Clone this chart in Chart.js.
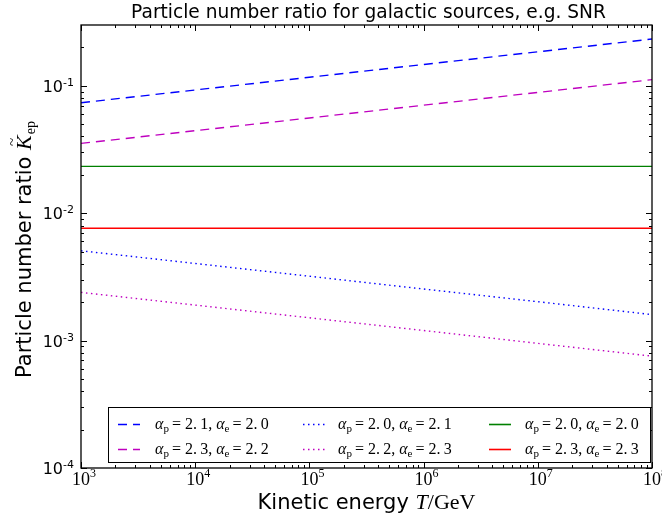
<!DOCTYPE html>
<html>
<head>
  <meta charset="utf-8">
  <title>Particle number ratio</title>
  <script src="https://cdn.jsdelivr.net/npm/chart.js"></script>
  <style>
    body { margin: 0; background: #fff; }
    canvas { display: block; }
  </style>
</head>
<body>
  <canvas id="ratioChart" width="662" height="518"></canvas>

  <script>
    // kinetic energy T in GeV (one point per decade, lines are straight on log-log)
    const energies = [1e3, 1e4, 1e5, 1e6, 1e7, 1e8];

    // K_ep
    const ap21ae20 = [0.0736, 0.0927, 0.1167, 0.1469, 0.1849, 0.2328];
    const ap23ae22 = [0.0353, 0.0444, 0.0559, 0.0704, 0.0887, 0.1117];
    const ap20ae21 = [0.00507, 0.00403, 0.00320, 0.00254, 0.00202, 0.00160];
    const ap22ae23 = [0.00239, 0.00190, 0.00151, 0.00120, 0.000951, 0.000755];
    const ap20ae20 = [0.0233, 0.0233, 0.0233, 0.0233, 0.0233, 0.0233];
    const ap23ae23 = [0.00762, 0.00762, 0.00762, 0.00762, 0.00762, 0.00762];

    // spectral indices for the legend
    const alphaP = [2.1, 2.3, 2.0, 2.2, 2.0, 2.3];
    const alphaE = [2.0, 2.2, 2.1, 2.3, 2.0, 2.3];

    const xTickExps = [3, 4, 5, 6, 7, 8];
    const yTickExps = [-4, -3, -2, -1];

    const titleText = 'Particle number ratio for galactic sources, e.g. SNR';

    function pts(vals) {
      return energies.map((e, i) => ({ x: e, y: vals[i] }));
    }

    const DASH = [9, 6];
    const DOT = [1.5, 3.5];

    const seriesDefs = [
      { vals: ap21ae20, color: '#0000ff', dash: DASH },
      { vals: ap23ae22, color: '#bf00bf', dash: DASH },
      { vals: ap20ae21, color: '#0000ff', dash: DOT },
      { vals: ap22ae23, color: '#bf00bf', dash: DOT },
      { vals: ap20ae20, color: '#008000', dash: [] },
      { vals: ap23ae23, color: '#ff0000', dash: [] }
    ];

    const SANS = '"DejaVu Sans", sans-serif';
    const SERIF = '"Liberation Serif", serif';

    // draws a run of text pieces; pieces = [{t, f, dy}]
    function drawRun(ctx, pieces, x, y, align) {
      let w = 0;
      pieces.forEach(p => { ctx.font = p.f; w += ctx.measureText(p.t).width + (p.gap || 0); });
      let cx = x;
      if (align === 'center') cx = x - w / 2;
      if (align === 'right') cx = x - w;
      ctx.textAlign = 'left';
      ctx.textBaseline = 'alphabetic';
      pieces.forEach(p => {
        ctx.font = p.f;
        ctx.fillText(p.t, cx, y + (p.dy || 0));
        cx += ctx.measureText(p.t).width + (p.gap || 0);
      });
      return w;
    }

    function fmt(v) {
      return v.toFixed(1).replace('.', '.\u2009');
    }

    const decorPlugin = {
      id: 'decor',
      afterDraw(chart) {
        const ctx = chart.ctx;
        const a = chart.chartArea;
        const xs = chart.scales.x, ys = chart.scales.y;
        ctx.save();
        ctx.fillStyle = '#000';
        ctx.strokeStyle = '#000';

        // frame
        ctx.lineWidth = 1.3;
        ctx.strokeRect(a.left, a.top, a.right - a.left, a.bottom - a.top);

        // inward ticks on all four sides
        ctx.lineWidth = 1;
        ctx.beginPath();
        for (let e = 3; e <= 8; e++) {
          for (let k = 1; k <= 9; k++) {
            if (e === 8 && k > 1) break;
            const px = Math.round(xs.getPixelForValue(k * Math.pow(10, e))) + 0.5;
            const len = k === 1 ? 6 : 3;
            ctx.moveTo(px, a.bottom); ctx.lineTo(px, a.bottom - len);
            ctx.moveTo(px, a.top); ctx.lineTo(px, a.top + len);
          }
        }
        for (let e = -4; e <= -1; e++) {
          for (let k = 1; k <= 9; k++) {
            const v = k * Math.pow(10, e);
            if (v > ys.max) break;
            const py = Math.round(ys.getPixelForValue(v)) + 0.5;
            const len = k === 1 ? 6 : 3;
            ctx.moveTo(a.left, py); ctx.lineTo(a.left + len, py);
            ctx.moveTo(a.right, py); ctx.lineTo(a.right - len, py);
          }
        }
        ctx.stroke();

        // x tick labels
        xTickExps.forEach(e => {
          const px = xs.getPixelForValue(Math.pow(10, e));
          drawRun(ctx, [
            { t: '10', f: '18px ' + SERIF },
            { t: String(e), f: '12px ' + SERIF, dy: -8 }
          ], px + 3, 485, 'center');
        });

        // y tick labels
        yTickExps.forEach(e => {
          const py = ys.getPixelForValue(Math.pow(10, e));
          drawRun(ctx, [
            { t: '10', f: '16px ' + SANS },
            { t: String(e), f: '11px ' + SANS, dy: -6 }
          ], 74, py + 6, 'right');
        });

        // title
        drawRun(ctx, [{ t: titleText, f: '18.6px ' + SANS }], (a.left + a.right) / 2 + 2, 18, 'center');

        // x axis label
        drawRun(ctx, [
          { t: 'Kinetic energy ', f: '21px ' + SANS },
          { t: 'T', f: 'italic 22px ' + SERIF },
          { t: '/GeV', f: '22px ' + SERIF }
        ], (a.left + a.right) / 2, 509, 'center');

        // y axis label
        ctx.save();
        ctx.translate(31, (a.top + a.bottom) / 2 + 3);
        ctx.rotate(-Math.PI / 2);
        ctx.font = '21px ' + SANS;
        const p1 = 'Particle number ratio ';
        const w1 = ctx.measureText(p1).width;
        ctx.font = 'italic 22px ' + SERIF;
        const wk = ctx.measureText('K').width;
        ctx.font = '14px ' + SERIF;
        const ws = ctx.measureText('ep').width;
        const tot = w1 + wk + 1 + ws;
        let sx = -tot / 2;
        drawRun(ctx, [{ t: p1, f: '21px ' + SANS }], sx, 0, 'left');
        sx += w1;
        drawRun(ctx, [{ t: 'K', f: 'italic 22px ' + SERIF }], sx, 0, 'left');
        drawRun(ctx, [{ t: '~', f: '15px ' + SERIF }], sx + 4, -14, 'left');
        drawRun(ctx, [{ t: 'ep', f: '14px ' + SERIF }], sx + wk + 1, 4, 'left');
        ctx.restore();

        // legend box
        const lx = 108, ly = 407, lw = 542, lh = 55;
        ctx.fillStyle = '#fff';
        ctx.fillRect(lx, ly, lw, lh);
        ctx.lineWidth = 1;
        ctx.strokeStyle = '#000';
        ctx.strokeRect(lx + 0.5, ly + 0.5, lw, lh);

        const colLine = [118, 303, 489];
        const colText = [155, 338, 525];
        const rowY = [424, 449];
        chart.data.datasets.forEach((ds, i) => {
          const c = Math.floor(i / 2), r = i % 2;
          const y = rowY[r] + 0.5;
          ctx.save();
          ctx.strokeStyle = ds.borderColor;
          ctx.lineWidth = 1.6;
          ctx.setLineDash(ds.borderDash);
          ctx.beginPath();
          ctx.moveTo(colLine[c], y);
          ctx.lineTo(colLine[c] + 22, y);
          ctx.stroke();
          ctx.restore();
          ctx.fillStyle = '#000';
          drawRun(ctx, [
            { t: '\u03b1', f: 'italic 16px ' + SERIF },
            { t: 'p', f: '11px ' + SERIF, dy: 3, gap: 3 },
            { t: '= ' + fmt(alphaP[i]) + ', ', f: '16px ' + SERIF },
            { t: '\u03b1', f: 'italic 16px ' + SERIF },
            { t: 'e', f: '11px ' + SERIF, dy: 3, gap: 3 },
            { t: '= ' + fmt(alphaE[i]), f: '16px ' + SERIF }
          ], colText[c], rowY[r] + 5, 'left');
        });

        ctx.restore();
      }
    };

    new Chart(document.getElementById('ratioChart'), {
      type: 'line',
      data: {
        datasets: seriesDefs.map((s, i) => ({
          label: 'ap=' + alphaP[i] + ', ae=' + alphaE[i],
          data: pts(s.vals),
          borderColor: s.color,
          borderWidth: 1.4,
          borderDash: s.dash,
          pointRadius: 0,
          fill: false,
          tension: 0
        }))
      },
      options: {
        responsive: false,
        animation: false,
        layout: { padding: { left: 81, right: 10, top: 25, bottom: 50 } },
        plugins: {
          legend: { display: false },
          tooltip: { enabled: false }
        },
        scales: {
          x: { type: 'logarithmic', min: 1e3, max: 1e8, display: false },
          y: { type: 'logarithmic', min: 1e-4, max: 0.3, display: false }
        }
      },
      plugins: [decorPlugin]
    });
  </script>
</body>
</html>
